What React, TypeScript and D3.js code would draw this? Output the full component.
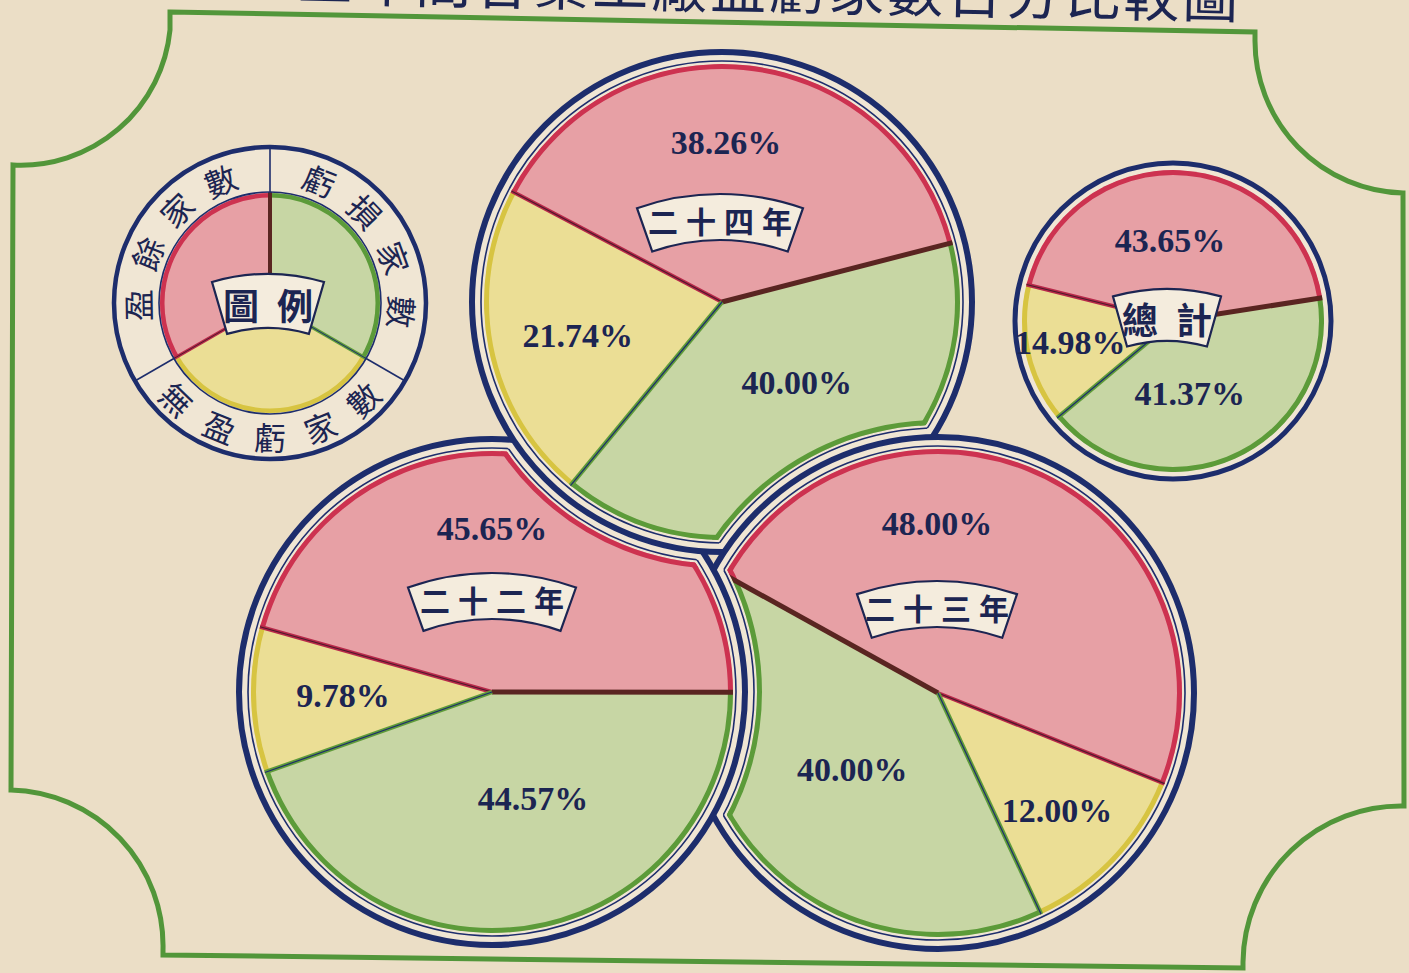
import React from 'react';
import * as d3 from 'd3';

const W = 1409;
const H = 973;

// category order: 盈餘 (red), 虧損 (green), 無盈虧 (yellow)
const categories = ['盈餘家數', '虧損家數', '無盈虧家數'];
const pieNames = ['二十二年', '二十三年', '二十四年', '總計'];
const surplusPct = [45.65, 48.0, 38.26, 43.65];
const lossPct = [44.57, 40.0, 40.0, 41.37];
const evenPct = [9.78, 12.0, 21.74, 14.98];
const title = '三年間各業工廠盈虧家數百分比較圖';
const legendTitle = '圖例';

const fills = ['#e7a0a5', '#c7d6a4', '#ebde95'];
const rims = ['#cd3250', '#5c9b39', '#d7c441'];
const NAVY = '#1d2d6c';
const INK = '#1c2552';
const BG = '#ebdec6';
const GAP = '#f0e6d4';
const FRAME = '#52963a';
const CJK = '"Noto Sans CJK TC", "Noto Sans CJK JP", sans-serif';
const SERIF = '"Liberation Serif", "DejaVu Serif", serif';

// layout of each pie (index matches pieNames); cut = index of the circle lying over it
const pies = [
  { cx: 492, cy: 692, r: 253, start: -74.3, order: [0, 1, 2], cut: 2, pad: 12, thin: true,
    box: { x: 492, y: 573, w: 168, h: 46, rf: 250 }, labelAt: [[0, 164], [158.9, 114], [268.8, 149]] },
  { cx: 938, cy: 693, r: 256, start: -61, order: [0, 2, 1], cut: 0, pad: 12, thin: true,
    box: { x: 937, y: 581, w: 160, h: 46, rf: 250 }, labelAt: [[-0.3, 170], [228.2, 115], [134.5, 167]] },
  { cx: 722, cy: 302, r: 250, start: -62.2, order: [0, 1, 2], cut: 1, pad: 12, thin: true,
    box: { x: 720, y: 194, w: 166, h: 46, rf: 250 }, labelAt: [[1.4, 160], [137.2, 110], [257.1, 148]] },
  { cx: 1173, cy: 321, r: 158, start: -76, order: [0, 1, 2], cut: null as number | null, pad: 7, thin: false,
    box: { x: 1167, y: 289, w: 108, h: 52, rf: 200 }, labelAt: [[-2.1, 81], [167, 74], [258, 105]] },
];

const legend = { cx: 270, cy: 303, r: 156, inner: 111, box: { x: 268, y: 274, w: 112, h: 54, rf: 200 } };
// ring text: [category, first angle, step]
const legendText: [number, number, number][] = [[1, 22, 24], [0, 269, 23], [2, 224, -22]];

const rad = (d: number) => (d * Math.PI) / 180;
const polar = (cx: number, cy: number, r: number, a: number) => [cx + r * Math.sin(a), cy - r * Math.cos(a)];
const circlePath = (cx: number, cy: number, r: number) =>
  `M${cx - r},${cy}a${r},${r} 0 1,0 ${2 * r},0a${r},${r} 0 1,0 ${-2 * r},0Z`;
const outside = (cx: number, cy: number, r: number) =>
  `M-20,-20H${W + 20}V${H + 20}H-20Z` + circlePath(cx, cy, r);

function edgeStyle(a: number, b: number) {
  if ((a === 0 && b === 1) || (a === 1 && b === 0)) return [{ stroke: '#5a2521', w: 5 }];
  if (a === 0 || b === 0) return [{ stroke: '#b8294a', w: 4 }, { stroke: '#4d1a2c', w: 1.2 }];
  return [{ stroke: '#5f9b3a', w: 4.5 }, { stroke: NAVY, w: 1.2 }];
}

const fanGen = d3.arc<any>();
function fanBox(b: { x: number; y: number; w: number; h: number; rf: number }) {
  const a = Math.asin(b.w / 2 / b.rf);
  const d = fanGen({ innerRadius: b.rf - b.h, outerRadius: b.rf, startAngle: -a, endAngle: a }) as string;
  return <path d={d} transform={`translate(${b.x},${b.y + b.rf})`} fill="#f4ecdd" stroke={INK} strokeWidth={2.2} />;
}

export default function App() {
  const defs: React.ReactNode[] = [];
  const cream: React.ReactNode[] = [];
  const pieLayer: React.ReactNode[] = [];
  const lines: React.ReactNode[] = [];
  const texts: React.ReactNode[] = [];

  pies.forEach((p, i) => {
    const vals = [surplusPct[i], lossPct[i], evenPct[i]];
    const Rp = p.r - p.pad;
    const c = p.cut !== null ? pies[p.cut] : null;
    const clip = (off: number) => (c ? `url(#cut${i}_${off})` : undefined);
    if (c) {
      Array.from(new Set([0, 9, p.pad])).forEach((off) =>
        defs.push(
          <clipPath id={`cut${i}_${off}`} key={`cut${i}_${off}`}>
            <path d={outside(c.cx, c.cy, c.r + off)} clipRule="evenodd" />
          </clipPath>
        )
      );
      defs.push(
        <clipPath id={`disk${i}`} key={`disk${i}`}>
          <circle cx={p.cx} cy={p.cy} r={p.r - 9} />
        </clipPath>
      );
    }

    const arcs = d3
      .pie<number>()
      .sort(null)
      .value((k) => vals[k])
      .startAngle(rad(p.start))
      .endAngle(rad(p.start) + 2 * Math.PI)(p.order);
    const arcGen = d3.arc<d3.PieArcDatum<number>>().innerRadius(0).outerRadius(Rp);

    cream.push(
      <g key={`cr${i}`} clipPath={clip(0)}>
        <circle cx={p.cx} cy={p.cy} r={p.r} fill={GAP} />
      </g>
    );

    arcs.forEach((a, k) =>
      defs.push(
        <clipPath id={`sl${i}_${k}`} key={`sl${i}_${k}`}>
          <path d={arcGen(a) as string} transform={`translate(${p.cx},${p.cy})`} />
        </clipPath>
      )
    );

    pieLayer.push(
      <g key={`pie${i}`} clipPath={clip(p.pad)}>
        {arcs.map((a, k) => (
          <g key={k} clipPath={`url(#sl${i}_${k})`}>
            <circle cx={p.cx} cy={p.cy} r={Rp} fill={fills[a.data]} />
            <circle cx={p.cx} cy={p.cy} r={Rp} fill="none" stroke={rims[a.data]} strokeWidth={10} />
            {c && (
              <circle cx={c.cx} cy={c.cy} r={c.r + p.pad} fill="none" stroke={rims[a.data]} strokeWidth={10} />
            )}
          </g>
        ))}
        {arcs.map((a, k) => {
          const prev = arcs[(k + arcs.length - 1) % arcs.length].data;
          const [x2, y2] = polar(p.cx, p.cy, Rp, a.startAngle);
          return edgeStyle(prev, a.data).map((s, j) => (
            <line key={`${k}_${j}`} x1={p.cx} y1={p.cy} x2={x2} y2={y2} stroke={s.stroke} strokeWidth={s.w} />
          ));
        })}
      </g>
    );

    if (p.thin) {
      lines.push(
        <g key={`th${i}`} clipPath={clip(9)}>
          <circle cx={p.cx} cy={p.cy} r={p.r - 9} fill="none" stroke={NAVY} strokeWidth={1.6} />
        </g>
      );
      if (c)
        lines.push(
          <g key={`thc${i}`} clipPath={`url(#disk${i})`}>
            <circle cx={c.cx} cy={c.cy} r={c.r + 9} fill="none" stroke={NAVY} strokeWidth={1.6} />
          </g>
        );
    }
    lines.push(
      <g key={`ol${i}`} clipPath={clip(0)}>
        <circle cx={p.cx} cy={p.cy} r={p.r} fill="none" stroke={NAVY} strokeWidth={p.thin ? 6 : 5} />
      </g>
    );

    texts.push(<g key={`bx${i}`}>{fanBox(p.box)}</g>);
    const big = pieNames[i].length <= 2;
    const ls = big ? 18 : 8;
    texts.push(
      <text
        key={`nm${i}`}
        x={p.box.x}
        y={p.box.y + p.box.h * 0.56}
        dx={ls / 2}
        textAnchor="middle"
        dominantBaseline="central"
        fontFamily={CJK}
        fontWeight={600}
        fontSize={big ? 36 : 30}
        letterSpacing={ls}
        fill={INK}
      >
        {pieNames[i]}
      </text>
    );
    arcs.forEach((a) => {
      const [deg, r] = p.labelAt[a.data];
      const [x, y] = polar(p.cx, p.cy, r, rad(deg));
      texts.push(
        <text
          key={`lb${i}_${a.data}`}
          x={x}
          y={y}
          textAnchor="middle"
          dominantBaseline="central"
          fontFamily={SERIF}
          fontWeight="bold"
          fontSize={34}
          fill={INK}
        >
          {vals[a.data].toFixed(2)}%
        </text>
      );
    });
  });

  // legend
  const L = legend;
  const lArcs = d3
    .pie<number>()
    .sort(null)
    .value(() => 1)([1, 2, 0]);
  const lArc = d3.arc<d3.PieArcDatum<number>>().innerRadius(0).outerRadius(L.inner - 1);
  lArcs.forEach((a, k) =>
    defs.push(
      <clipPath id={`lsl${k}`} key={`lsl${k}`}>
        <path d={lArc(a) as string} transform={`translate(${L.cx},${L.cy})`} />
      </clipPath>
    )
  );

  const frame =
    'M170,12 L1255,32 L1255,40 A152,152 0 0,0 1403,193 L1404,806 A158,158 0 0,0 1243,962 L1243,968 ' +
    'L163,955 L163,950 A156,156 0 0,0 11,790 L13,165 A150,150 0 0,0 170,30 Z';

  return (
    <svg width={W} height={H} style={{ position: 'absolute', left: 0, top: 0, display: 'block' }}>
      <defs>{defs}</defs>
      <rect width={W} height={H} fill={BG} />
      <text
        x={297}
        y={9}
        transform="rotate(1.1 760 9)"
        fontFamily={CJK}
        fontSize={56}
        letterSpacing={3}
        fill={INK}
      >
        {title}
      </text>
      <path d={frame} fill="none" stroke={FRAME} strokeWidth={5} strokeLinejoin="miter" />

      {/* legend */}
      <g>
        <circle cx={L.cx} cy={L.cy} r={L.r} fill={GAP} stroke={NAVY} strokeWidth={4.5} />
        {lArcs.map((a, k) => (
          <g key={k} clipPath={`url(#lsl${k})`}>
            <circle cx={L.cx} cy={L.cy} r={L.inner} fill={fills[a.data]} />
            <circle cx={L.cx} cy={L.cy} r={L.inner - 1} fill="none" stroke={rims[a.data]} strokeWidth={9} />
          </g>
        ))}
        {lArcs.map((a, k) => {
          const prev = lArcs[(k + 2) % 3].data;
          const [x1, y1] = polar(L.cx, L.cy, L.inner, a.startAngle);
          const [x2, y2] = polar(L.cx, L.cy, L.r, a.startAngle);
          return (
            <g key={`le${k}`}>
              {edgeStyle(prev, a.data).map((s, j) => (
                <line key={j} x1={L.cx} y1={L.cy} x2={x1} y2={y1} stroke={s.stroke} strokeWidth={s.w * 0.8} />
              ))}
              <line x1={x1} y1={y1} x2={x2} y2={y2} stroke={NAVY} strokeWidth={1.6} />
            </g>
          );
        })}
        <circle cx={L.cx} cy={L.cy} r={L.inner} fill="none" stroke={NAVY} strokeWidth={1.6} />
        {legendText.map(([cat, a0, step]) =>
          Array.from(categories[cat]).map((ch, j) => {
            const deg = a0 + step * j;
            const [x, y] = polar(L.cx, L.cy, 133, rad(deg));
            const rot = step < 0 ? deg - 180 : deg;
            return (
              <text
                key={`${cat}_${j}`}
                x={x}
                y={y}
                transform={`rotate(${rot} ${x} ${y})`}
                textAnchor="middle"
                dominantBaseline="central"
                fontFamily={CJK}
                fontSize={32}
                fill={INK}
              >
                {ch}
              </text>
            );
          })
        )}
        {fanBox(L.box)}
        <text
          x={L.box.x}
          y={L.box.y + L.box.h * 0.55}
          dx={9}
          textAnchor="middle"
          dominantBaseline="central"
          fontFamily={CJK}
          fontWeight={600}
          fontSize={36}
          letterSpacing={18}
          fill={INK}
        >
          {legendTitle}
        </text>
      </g>

      {cream}
      {pieLayer}
      {lines}
      {texts}
    </svg>
  );
}
